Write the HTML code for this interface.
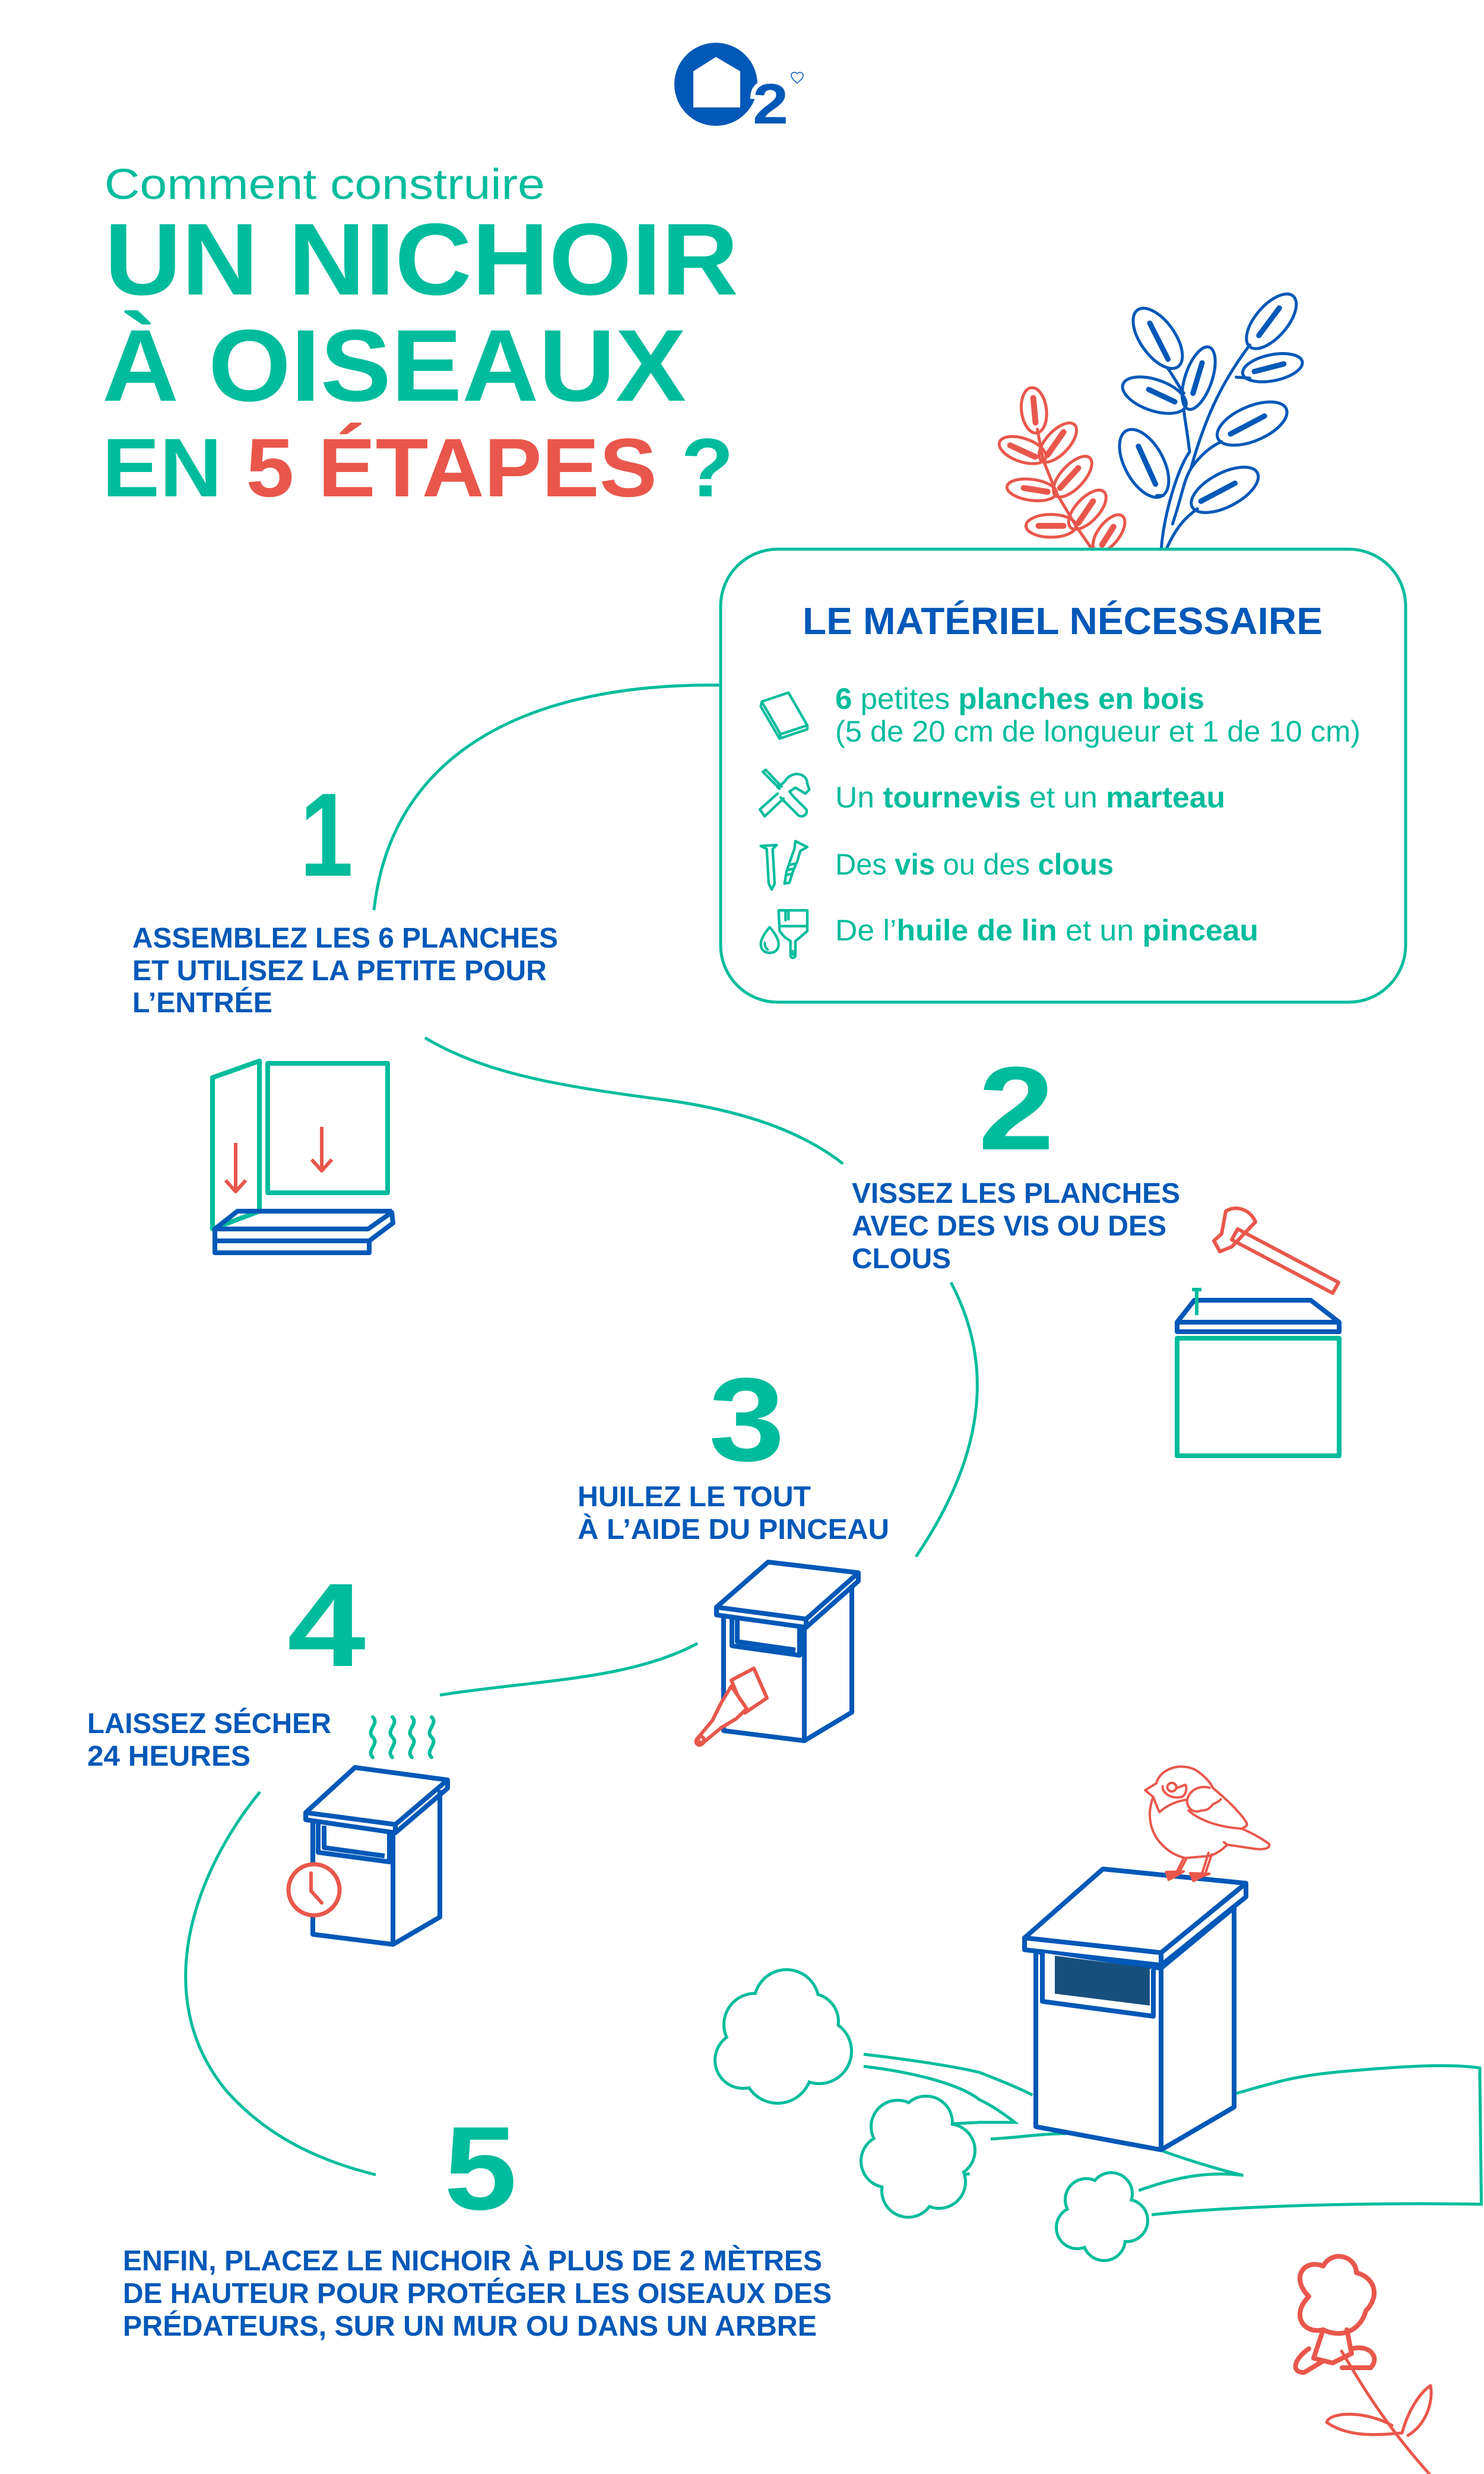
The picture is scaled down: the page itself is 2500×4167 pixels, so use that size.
<!DOCTYPE html>
<html><head><meta charset="utf-8"><style>
html,body{margin:0;padding:0;background:#fff}
svg{display:block}
text{font-family:"Liberation Sans",sans-serif}
</style></head><body>
<svg width="2500" height="4167" viewBox="0 0 2500 4167" xmlns="http://www.w3.org/2000/svg">
<defs>
<clipPath id="plantclip"><rect x="1600" y="400" width="700" height="524"/></clipPath>
</defs>
<rect width="2500" height="4167" fill="#fff"/>

<!-- Logo -->
<circle cx="1206" cy="142" r="70" fill="#0058B7"/>
<path d="M1168,120 L1206,96 L1247,120 L1247,181 L1168,181 Z" fill="#fff"/>
<text x="1268" y="208" font-size="96" font-weight="bold" fill="#0058B7" stroke="#fff" stroke-width="14" paint-order="stroke" textLength="60" lengthAdjust="spacingAndGlyphs">2</text>
<path d="M1343,140 c-6,-5 -10,-9 -10,-13 c0,-5 6,-7 10,-3 c4,-4 10,-2 10,3 c0,4 -4,8 -10,13z" fill="none" stroke="#0058B7" stroke-width="1.5"/>

<!-- Title -->
<text x="176" y="335" font-size="72" fill="#00BC9D" textLength="742" lengthAdjust="spacingAndGlyphs">Comment construire</text>
<text x="176" y="496" font-size="172" font-weight="bold" fill="#00BC9D" textLength="1068" lengthAdjust="spacingAndGlyphs">UN NICHOIR</text>
<text x="172" y="675" font-size="172" font-weight="bold" fill="#00BC9D" textLength="984" lengthAdjust="spacingAndGlyphs">À OISEAUX</text>
<text x="172" y="836" font-size="140" font-weight="bold" fill="#00BC9D" textLength="1064" lengthAdjust="spacingAndGlyphs">EN <tspan fill="#E9574C">5 ÉTAPES</tspan> ?</text>

<!-- Plants -->
<g clip-path="url(#plantclip)">
<g transform="translate(1650,471) scale(0.3827,0.319)" fill="none" stroke="#0058B7" stroke-width="5" stroke-linecap="round">
 <path vector-effect="non-scaling-stroke" d="M800,1430 C810,1250 870,1000 925,910 C915,800 905,750 900,690"/>
 <path vector-effect="non-scaling-stroke" d="M820,1430 C860,1320 900,1260 960,1210"/>
 <path vector-effect="non-scaling-stroke" d="M850,1290 C890,1150 900,1050 935,990 C990,900 1040,870 1065,855"/>
 <path vector-effect="non-scaling-stroke" d="M930,1000 C1000,700 1080,520 1190,345"/>
 <path vector-effect="non-scaling-stroke" d="M830,470 C860,520 880,570 900,600"/>
 <path vector-effect="non-scaling-stroke" d="M810,1140 L780,1140"/>
 <path vector-effect="non-scaling-stroke" d="M1130,515 L1190,520"/>
 <ellipse vector-effect="non-scaling-stroke" cx="785" cy="310" rx="175" ry="80" transform="rotate(62 785 310)"/>
 <ellipse vector-effect="non-scaling-stroke" cx="1285" cy="220" rx="165" ry="75" transform="rotate(-57 1285 220)"/>
 <ellipse vector-effect="non-scaling-stroke" cx="965" cy="520" rx="170" ry="60" transform="rotate(-75 965 520)"/>
 <ellipse vector-effect="non-scaling-stroke" cx="770" cy="610" rx="150" ry="80" transform="rotate(25 770 610)"/>
 <ellipse vector-effect="non-scaling-stroke" cx="1290" cy="465" rx="135" ry="68" transform="rotate(-15 1290 465)"/>
 <ellipse vector-effect="non-scaling-stroke" cx="1200" cy="760" rx="170" ry="88" transform="rotate(-30 1200 760)"/>
 <ellipse vector-effect="non-scaling-stroke" cx="725" cy="970" rx="190" ry="88" transform="rotate(68 725 970)"/>
 <ellipse vector-effect="non-scaling-stroke" cx="1080" cy="1110" rx="170" ry="85" transform="rotate(-35 1080 1110)"/>
 <path vector-effect="non-scaling-stroke" stroke-width="9" d="M750,230 L830,420 M1320,150 L1230,295 M980,440 L940,600 M745,580 L860,645 M1210,485 L1340,445 M1105,815 L1255,720 M700,880 L775,1080 M975,1170 L1125,1075"/>
</g>
<g transform="translate(1650,471) scale(0.3827,0.319)" fill="none" stroke="#E9574C" stroke-linecap="round">
 <path vector-effect="non-scaling-stroke" stroke-width="5" d="M500,1430 L430,1310 L340,1130 L280,950 L255,790"/>
 <g stroke-width="5">
 <ellipse vector-effect="non-scaling-stroke" cx="240" cy="690" rx="120" ry="55" transform="rotate(85 240 690)"/>
 <ellipse vector-effect="non-scaling-stroke" cx="345" cy="860" rx="120" ry="55" transform="rotate(-55 345 860)"/>
 <ellipse vector-effect="non-scaling-stroke" cx="190" cy="900" rx="110" ry="60" transform="rotate(25 190 900)"/>
 <ellipse vector-effect="non-scaling-stroke" cx="410" cy="1040" rx="125" ry="55" transform="rotate(-55 410 1040)"/>
 <ellipse vector-effect="non-scaling-stroke" cx="230" cy="1110" rx="110" ry="55" transform="rotate(10 230 1110)"/>
 <ellipse vector-effect="non-scaling-stroke" cx="475" cy="1215" rx="120" ry="55" transform="rotate(-55 475 1215)"/>
 <ellipse vector-effect="non-scaling-stroke" cx="315" cy="1300" rx="110" ry="60" transform="rotate(0 315 1300)"/>
 <ellipse vector-effect="non-scaling-stroke" cx="570" cy="1340" rx="110" ry="50" transform="rotate(-60 570 1340)"/>
 </g>
 <path vector-effect="non-scaling-stroke" stroke-width="10" d="M237,625 L247,755 M370,805 L300,925 M135,875 L245,935 M435,995 L355,1100 M195,1100 L300,1120 M500,1170 L435,1285 M260,1300 L370,1300 M590,1305 L540,1400"/>
</g>
</g>

<!-- Materials box -->
<rect x="1214" y="925" width="1154" height="763" rx="96" fill="none" stroke="#00BC9D" stroke-width="5"/>
<text x="1352" y="1068" font-size="64" font-weight="bold" fill="#0058B7" textLength="876" lengthAdjust="spacingAndGlyphs">LE MATÉRIEL NÉCESSAIRE</text>
<g font-size="50" fill="#00BC9D">
<text x="1407" y="1194" textLength="622" lengthAdjust="spacingAndGlyphs"><tspan font-weight="bold">6</tspan> petites <tspan font-weight="bold">planches en bois</tspan></text>
<text x="1407" y="1249" textLength="885" lengthAdjust="spacingAndGlyphs">(5 de 20 cm de longueur et 1 de 10 cm)</text>
<text x="1407" y="1360" textLength="657" lengthAdjust="spacingAndGlyphs">Un <tspan font-weight="bold">tournevis</tspan> et un <tspan font-weight="bold">marteau</tspan></text>
<text x="1407" y="1473" textLength="469" lengthAdjust="spacingAndGlyphs">Des <tspan font-weight="bold">vis</tspan> ou des <tspan font-weight="bold">clous</tspan></text>
<text x="1407" y="1584" textLength="713" lengthAdjust="spacingAndGlyphs">De l’<tspan font-weight="bold">huile de lin</tspan> et un <tspan font-weight="bold">pinceau</tspan></text>
</g>
<!-- icons -->
<g transform="translate(1260,1140) scale(0.3333)" fill="none" stroke="#00BC9D" stroke-width="13" stroke-linejoin="round" stroke-linecap="round">
 <path d="M70,125 L205,80 L300,245 L165,290 Z M70,125 L65,150 L160,312 L300,265 L300,245 M165,290 L160,312"/>
 <path d="M75,480 L160,565 M75,480 L90,470 L170,555 M150,590 L60,670 L85,705 L180,615 M150,560 L185,530 C220,470 300,485 300,540 L310,570 L290,590 L265,575 L240,560 L210,580 L230,605 L295,670 C305,690 280,715 255,700 L165,610"/>
 <path d="M65,855 L145,850 L125,870 L135,1045 L120,1075 L105,1045 L95,870 Z"/>
 <path d="M240,830 L300,860 L265,880 L250,930 L225,990 L210,1040 L185,1045 L195,985 L215,925 L235,870 Z M200,1000 L225,995 M205,975 L230,970 M210,950 L235,945"/>
 <path d="M110,1265 C80,1300 65,1330 65,1350 C65,1380 85,1395 110,1395 C135,1395 155,1380 155,1350 C155,1330 140,1300 110,1265 Z M85,1345 C85,1365 95,1375 100,1378"/>
 <path d="M155,1180 L300,1180 L300,1285 L265,1315 L240,1335 L240,1405 C240,1425 215,1425 215,1405 L215,1335 L185,1315 L160,1285 Z M160,1260 L300,1260 M190,1180 L190,1230 M205,1180 L205,1225"/>
 <circle cx="228" cy="1395" r="8"/>
</g>

<!-- Connector curves -->
<g fill="none" stroke="#00BC9D" stroke-width="5">
<path d="M1214,1154 C900,1150 660,1260 630,1533"/>
<path d="M716,1748 C820,1810 950,1830 1116,1852 C1250,1870 1350,1905 1420,1960"/>
<path d="M1602,2160 C1660,2270 1680,2420 1543,2622"/>
<path d="M1175,2768 C1060,2830 900,2830 741,2855"/>
<path d="M438,3018 C330,3150 250,3360 380,3520 C450,3600 540,3640 633,3663"/>
</g>

<!-- Step numbers -->
<g font-weight="bold" fill="#00BC9D" font-size="200">
<text x="505" y="1475" textLength="90" lengthAdjust="spacingAndGlyphs">1</text>
<text x="1648" y="1936" textLength="128" lengthAdjust="spacingAndGlyphs">2</text>
<text x="1194" y="2460" textLength="128" lengthAdjust="spacingAndGlyphs">3</text>
<text x="484" y="2806" textLength="132" lengthAdjust="spacingAndGlyphs">4</text>
<text x="748" y="3721" textLength="123" lengthAdjust="spacingAndGlyphs">5</text>
</g>

<!-- Step texts -->
<g font-weight="bold" fill="#0058B7" font-size="48">
<text x="223" y="1596" textLength="717" lengthAdjust="spacingAndGlyphs">ASSEMBLEZ LES 6 PLANCHES</text>
<text x="223" y="1651" textLength="698" lengthAdjust="spacingAndGlyphs">ET UTILISEZ LA PETITE POUR</text>
<text x="223" y="1705" textLength="236" lengthAdjust="spacingAndGlyphs">L’ENTRÉE</text>
<text x="1435" y="2026" textLength="553" lengthAdjust="spacingAndGlyphs">VISSEZ LES PLANCHES</text>
<text x="1435" y="2081" textLength="530" lengthAdjust="spacingAndGlyphs">AVEC DES VIS OU DES</text>
<text x="1435" y="2136" textLength="167" lengthAdjust="spacingAndGlyphs">CLOUS</text>
<text x="973" y="2537" textLength="393" lengthAdjust="spacingAndGlyphs">HUILEZ LE TOUT</text>
<text x="973" y="2592" textLength="525" lengthAdjust="spacingAndGlyphs">À L’AIDE DU PINCEAU</text>
<text x="147" y="2919" textLength="411" lengthAdjust="spacingAndGlyphs">LAISSEZ SÉCHER</text>
<text x="147" y="2974" textLength="275" lengthAdjust="spacingAndGlyphs">24 HEURES</text>
<text x="207" y="3824" textLength="1178" lengthAdjust="spacingAndGlyphs">ENFIN, PLACEZ LE NICHOIR À PLUS DE 2 MÈTRES</text>
<text x="207" y="3879" textLength="1194" lengthAdjust="spacingAndGlyphs">DE HAUTEUR POUR PROTÉGER LES OISEAUX DES</text>
<text x="207" y="3934" textLength="1169" lengthAdjust="spacingAndGlyphs">PRÉDATEURS, SUR UN MUR OU DANS UN ARBRE</text>
</g>

<!-- Step 1 illustration -->
<g fill="none" stroke-width="8" stroke-linejoin="round">
<path d="M358,1815 L437,1787 L437,2040 L358,2070 Z" stroke="#00BC9D"/>
<rect x="451" y="1791" width="202" height="218" stroke="#00BC9D"/>
<path d="M362,2070 L620,2070 L660,2042 L662,2060 L622,2090 L622,2110 L362,2110 Z M362,2070 L400,2040 L660,2040 M362,2090 L622,2090" stroke="#0058B7"/>
<path d="M397,1925 L397,2005 M380,1988 L397,2007 L414,1988 M542,1898 L542,1970 M525,1953 L542,1972 L559,1953" stroke="#E9574C" stroke-width="6"/>
</g>

<!-- Step 2 illustration -->
<g fill="none" stroke-width="8" stroke-linejoin="round">
<rect x="1983" y="2254" width="273" height="198" stroke="#00BC9D"/>
<path d="M1983,2227 L2012,2190 L2208,2190 L2256,2227 L2256,2243 L1983,2243 Z M1983,2227 L2256,2227" stroke="#0058B7"/>
<path d="M2016,2172 L2016,2215 M2008,2172 L2024,2172" stroke="#00BC9D" stroke-width="6"/>
<path d="M2085,2070 L2255,2160 L2245,2178 L2075,2088 Z M2065,2040 C2080,2030 2105,2035 2115,2058 L2075,2100 L2055,2108 L2045,2090 L2058,2078 Z" stroke="#E9574C" stroke-width="6"/>
</g>

<!-- Step 3 box -->
<g fill="none" stroke="#0058B7" stroke-width="8" stroke-linejoin="round">
<path d="M1207,2707 L1294,2631 L1446,2649 L1358,2727 Z M1207,2707 L1207,2720 L1358,2741 L1358,2727 M1358,2741 L1446,2663 L1446,2649"/>
<path d="M1219,2720 L1219,2915 L1355,2932 L1355,2741 M1355,2932 L1435,2884 L1435,2670"/>
<path d="M1233,2724 L1233,2772 L1347,2788 L1347,2738 M1242,2728 L1242,2765 L1340,2779"/>
</g>
<g fill="#fff" stroke="#E9574C" stroke-width="6" stroke-linejoin="round">
<path d="M1232,2830 L1270,2810 L1292,2860 L1255,2885 Z"/>
<path d="M1232,2840 L1258,2878 L1240,2895 L1215,2910 L1185,2935 C1178,2945 1168,2935 1175,2928 L1200,2898 L1215,2868 Z"/>
<circle cx="1181" cy="2930" r="5"/>
</g>

<!-- Step 4 box -->
<path d="M628,2960 c-12,-12 12,-22 0,-34 c-12,-12 12,-22 0,-34 M661,2960 c-12,-12 12,-22 0,-34 c-12,-12 12,-22 0,-34 M694,2960 c-12,-12 12,-22 0,-34 c-12,-12 12,-22 0,-34 M727,2960 c-12,-12 12,-22 0,-34 c-12,-12 12,-22 0,-34" fill="none" stroke="#00BC9D" stroke-width="6" stroke-linecap="round"/>
<g fill="none" stroke="#0058B7" stroke-width="8" stroke-linejoin="round">
<path d="M515,3053 L598,2977 L754,2998 L666,3073 Z M515,3053 L515,3065 L666,3087 L666,3073 M666,3087 L754,3012 L754,2998"/>
<path d="M527,3065 L527,3258 L662,3275 L662,3087 M662,3275 L741,3229 L741,3015"/>
<path d="M536,3070 L536,3120 L656,3136 L656,3085 M546,3075 L546,3112 L648,3126"/>
</g>
<circle cx="529" cy="3183" r="43" fill="#fff" stroke="#E9574C" stroke-width="7"/>
<path d="M524,3155 L524,3185 L542,3205" fill="none" stroke="#E9574C" stroke-width="6" stroke-linecap="round"/>

<!-- Scene 5 -->
<g transform="translate(1650,2950) scale(0.542,0.510)" fill="none" stroke="#00BC9D" stroke-width="5">
<path vector-effect="non-scaling-stroke" d="M-360,1000 C-200,1020 -80,1040 0,1060 C60,1085 120,1110 165,1135"/>
<path vector-effect="non-scaling-stroke" d="M-360,1040 C-200,1060 -60,1100 0,1150 C40,1170 80,1200 110,1225 L0,1225 L-90,1230"/>
<path vector-effect="non-scaling-stroke" d="M35,1280 C120,1275 200,1262 270,1262"/>
<path vector-effect="non-scaling-stroke" d="M795,1130 C900,1100 960,1075 1100,1060 C1300,1040 1450,1030 1555,1045 L1560,1495 C1200,1490 800,1500 535,1530"/>
<path vector-effect="non-scaling-stroke" d="M570,1320 C650,1350 740,1380 820,1400 C700,1385 600,1410 495,1450"/>
<path vector-effect="non-scaling-stroke" d="M-240,1440 C-170,1410 -90,1400 -30,1395"/>
</g>
<!-- bushes -->
<g fill="none" stroke="#00BC9D" stroke-width="10">
<circle cx="1325" cy="3372" r="52"/><circle cx="1272" cy="3410" r="50"/><circle cx="1252" cy="3470" r="45"/><circle cx="1310" cy="3485" r="55"/><circle cx="1380" cy="3455" r="52"/><circle cx="1365" cy="3405" r="45"/>
<circle cx="1512" cy="3582" r="42"/><circle cx="1560" cy="3575" r="42"/><circle cx="1598" cy="3622" r="42"/><circle cx="1582" cy="3675" r="42"/><circle cx="1530" cy="3690" r="42"/><circle cx="1495" cy="3640" r="42"/>
<circle cx="1830" cy="3705" r="33"/><circle cx="1872" cy="3695" r="33"/><circle cx="1898" cy="3740" r="33"/><circle cx="1860" cy="3772" r="33"/><circle cx="1815" cy="3752" r="33"/>
</g>
<g fill="#fff">
<circle cx="1325" cy="3372" r="52"/><circle cx="1272" cy="3410" r="50"/><circle cx="1252" cy="3470" r="45"/><circle cx="1310" cy="3485" r="55"/><circle cx="1380" cy="3455" r="52"/><circle cx="1365" cy="3405" r="45"/><circle cx="1318" cy="3430" r="60"/>
<circle cx="1512" cy="3582" r="42"/><circle cx="1560" cy="3575" r="42"/><circle cx="1598" cy="3622" r="42"/><circle cx="1582" cy="3675" r="42"/><circle cx="1530" cy="3690" r="42"/><circle cx="1495" cy="3640" r="42"/><circle cx="1546" cy="3630" r="50"/>
<circle cx="1830" cy="3705" r="33"/><circle cx="1872" cy="3695" r="33"/><circle cx="1898" cy="3740" r="33"/><circle cx="1860" cy="3772" r="33"/><circle cx="1815" cy="3752" r="33"/><circle cx="1857" cy="3735" r="35"/>
</g>
<!-- big box -->
<g fill="#fff" stroke="#0058B7" stroke-width="8" stroke-linejoin="round">
<path d="M1745,3287 L1745,3582 L1956,3621 L1956,3315 Z"/>
<path d="M1956,3315 L2079,3213 L2079,3549 L1956,3621 Z"/>
<path d="M1726,3264 L1858,3148 L2099,3172 L1956,3289 Z"/>
<path d="M1726,3264 L1726,3284 L1956,3310 L1956,3289 Z"/>
<path d="M1956,3289 L2099,3172 L2099,3195 L1956,3310 Z"/>
<path d="M1756,3289 L1756,3371 L1943,3396 L1943,3317"/>
</g>
<path d="M1777,3294 L1937,3315 L1937,3378 L1777,3358 Z" fill="#174F7C"/>
<!-- bird -->
<g transform="translate(1650,2950) scale(0.542,0.510)" fill="#fff" stroke="#E9574C" stroke-width="4" stroke-linejoin="round" stroke-linecap="round">
<path vector-effect="non-scaling-stroke" d="M550,105 C560,60 620,35 670,60 C700,80 720,105 725,120 C770,160 810,200 830,235 C835,245 825,250 815,255 C850,270 880,290 900,305 C905,318 890,325 860,322 L770,308 C750,330 730,340 715,345 L640,352 C590,340 550,300 535,250 C525,210 530,180 540,150 L515,128 L550,105 Z"/>
<path vector-effect="non-scaling-stroke" fill="none" d="M540,150 C550,175 555,195 560,200 C580,180 610,165 640,160 M715,120 C680,110 650,130 645,165 C648,190 665,205 690,195 C705,195 715,190 725,175 C735,170 745,165 750,158 M650,195 C680,225 740,250 815,255 M570,115 C565,130 590,160 630,150 C645,140 645,115 640,110 L615,120 M770,308 L760,300"/>
<circle vector-effect="non-scaling-stroke" cx="598" cy="118" r="14"/>
<path vector-effect="non-scaling-stroke" fill="none" d="M635,352 L612,400 M643,355 L620,400 M712,335 L690,410 M722,340 L700,410"/>
<path vector-effect="non-scaling-stroke" fill="#E9574C" d="M580,398 L635,396 L610,412 L588,424 Z M655,402 L715,404 L690,414 L665,428 Z"/>
</g>
<!-- flower -->
<g fill="none" stroke="#E9574C" stroke-width="5" stroke-linejoin="round" stroke-linecap="round">
<path d="M2260,3960 C2290,4010 2330,4080 2408,4167"/>
<g transform="translate(2245,3900) scale(1.6) translate(-2245,-3900)">
<path d="M2220,3880 C2200,3860 2215,3840 2235,3848 C2245,3830 2270,3838 2270,3855 C2290,3860 2295,3880 2280,3895 C2275,3915 2255,3925 2235,3915 C2215,3920 2200,3900 2220,3880 Z"/>
<path d="M2235,3915 L2225,3945 L2245,3950 L2265,3940 L2260,3915"/>
<path d="M2220,3935 C2205,3945 2200,3960 2215,3960 L2235,3948 M2265,3935 C2285,3930 2295,3945 2285,3955 L2255,3955"/>
</g>
<path d="M2345,4085 C2300,4060 2240,4062 2235,4080 C2270,4105 2320,4102 2360,4098"/>
<path d="M2362,4098 C2372,4060 2392,4030 2410,4018 C2415,4050 2400,4085 2372,4102"/>
</g>
</svg>
</body></html>
